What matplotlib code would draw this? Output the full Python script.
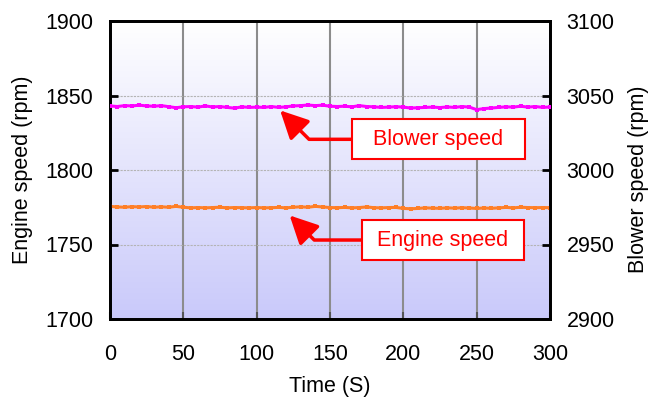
"""Engine and blower speed over time, dual y-axis chart."""

import matplotlib
matplotlib.use("Agg")
import matplotlib.pyplot as plt
import numpy as np

plt.rcParams["font.family"] = ["Liberation Sans", "DejaVu Sans"]

# time in seconds, 5 s steps
time_s = list(range(0, 301, 5))

engine_rpm = [
    1775.6, 1775.2, 1775.0, 1775.4, 1775.2, 1775.5, 1775.0, 1775.3, 1775.0, 1775.6,
    1775.0, 1774.6, 1774.8, 1774.6, 1774.8, 1775.0, 1774.6, 1774.8, 1774.7, 1774.6,
    1774.8, 1774.6, 1774.7, 1774.9, 1774.6, 1775.0, 1775.3, 1775.0, 1775.6, 1775.2,
    1774.8, 1774.7, 1774.9, 1774.6, 1774.8, 1775.2, 1774.7, 1774.6, 1774.8, 1774.9,
    1774.2, 1774.0, 1774.2, 1774.6, 1774.4, 1774.3, 1774.6, 1774.4, 1774.7, 1774.5,
    1774.2, 1774.5, 1774.3, 1774.6, 1774.9, 1774.6, 1775.0, 1774.8, 1774.7, 1774.8,
    1774.7,
]

blower_rpm = [
    3043.0, 3042.6, 3043.2, 3043.0, 3043.5, 3043.0, 3042.8, 3043.2, 3042.5, 3041.8,
    3042.4, 3042.6, 3042.2, 3043.0, 3042.3, 3042.6, 3042.0, 3041.5, 3042.4, 3042.0,
    3042.2, 3042.0, 3042.6, 3042.0, 3042.4, 3043.0, 3043.2, 3043.6, 3043.2, 3043.5,
    3042.8, 3042.6, 3042.8, 3042.4, 3043.2, 3042.6, 3042.4, 3042.0, 3042.2, 3042.5,
    3042.2, 3041.6, 3041.8, 3042.0, 3042.2, 3041.9, 3042.3, 3042.0, 3042.6, 3042.2,
    3040.5, 3041.2, 3041.6, 3042.0, 3042.4, 3042.2, 3042.8, 3042.2, 3042.6, 3042.0,
    3042.3,
]

x_ticks = [0, 50, 100, 150, 200, 250, 300]
engine_ticks = [1700, 1750, 1800, 1850, 1900]
blower_ticks = [2900, 2950, 3000, 3050, 3100]

fig = plt.figure(figsize=(6.5, 4.04), dpi=100)
ax = fig.add_axes([110 / 650, 1 - 319 / 404, 440 / 650, 298 / 404])
ax2 = ax.twinx()

# gradient background (white at top -> lavender at bottom)
grad = np.linspace(0, 1, 256).reshape(-1, 1)
top = np.array([1.0, 1.0, 1.0])
bottom = np.array([0.79, 0.79, 0.98])
img = top + (bottom - top) * grad[..., None]
ax.imshow(img, extent=[0, 1, 0, 1], transform=ax.transAxes, aspect="auto",
          zorder=0, interpolation="bilinear")

ax.set_xlim(0, 300)
ax.set_ylim(1700, 1900)
ax2.set_ylim(2900, 3100)

for x in x_ticks[1:-1]:
    ax.axvline(x, color="#8c8c8c", lw=1.5, zorder=1)
for y in engine_ticks[1:-1]:
    ax.axhline(y, color="#b4b4b4", lw=0.8, ls=(0, (2, 1)), zorder=1)

ax.plot(time_s, engine_rpm, color="#ff7f27", lw=2.2, marker="s", ms=2.8,
        mew=0, zorder=3)
ax2.plot(time_s, blower_rpm, color="#ff00ff", lw=2.2, marker="s", ms=2.8,
         mew=0, zorder=3)

ax.set_xticks(x_ticks)
ax.set_yticks(engine_ticks)
ax2.set_yticks(blower_ticks)

fs = 15.5
ax.tick_params(axis="y", direction="in", length=6, width=2, pad=12, labelsize=fs)
ax.tick_params(axis="x", direction="in", length=5, width=1.5, color="#555555",
               pad=18, labelsize=fs)
ax2.tick_params(axis="y", direction="in", length=6, width=2, pad=12, labelsize=fs)

for a in (ax, ax2):
    for sp in a.spines.values():
        sp.set_linewidth(2)
        sp.set_color("black")

ax.set_xlabel("Time (S)", fontsize=fs)
ax.xaxis.set_label_coords(0.5, -0.19)
ax.set_ylabel("Engine speed (rpm)", fontsize=fs)
ax.yaxis.set_label_coords(-0.175, 0.5)
ax2.set_ylabel("Blower speed (rpm)", fontsize=fs)
ax2.yaxis.set_label_coords(1.177, 0.47)

box = dict(boxstyle="square,pad=0.45", fc="white", ec="red", lw=1.5)
arrow = dict(arrowstyle="-|>,head_length=1.1,head_width=0.55", color="red",
             lw=2.5, shrinkA=0, shrinkB=0,
             connectionstyle="angle,angleA=0,angleB=-45,rad=0")

ax2.annotate("  Blower speed  ", xy=(116, 3040.0), xytext=(224, 3020.6),
             fontsize=fs, color="red", ha="center", va="center",
             bbox=box, arrowprops=arrow, zorder=5)
ax2.annotate(" Engine speed ", xy=(122.5, 2969.5), xytext=(227, 2953.0),
             fontsize=fs, color="red", ha="center", va="center",
             bbox=box, arrowprops=arrow, zorder=5)

fig.savefig("out.png", dpi=100)
plt.close(fig)
